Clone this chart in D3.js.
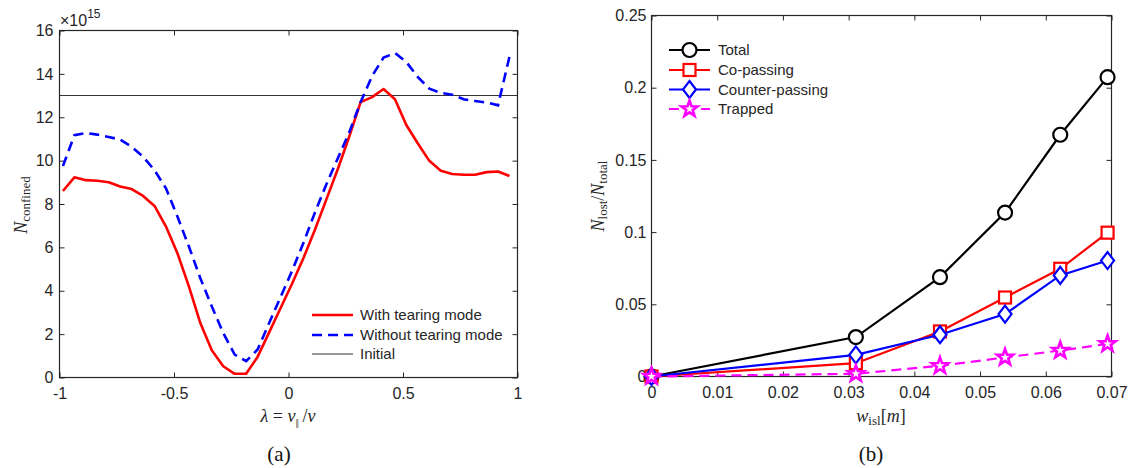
<!DOCTYPE html>
<html><head><meta charset="utf-8">
<script src="https://cdn.jsdelivr.net/npm/d3@7"></script>
<style>
html,body{margin:0;padding:0;background:#fff;}
svg{display:block;}
</style></head>
<body>
<svg id="chart" width="1128" height="468"></svg>
<script>
// ---------- Panel (a) data ----------
const lambdaVals = [-0.985,-0.935,-0.885,-0.835,-0.785,-0.735,-0.685,-0.635,-0.585,-0.535,
  -0.485,-0.435,-0.385,-0.335,-0.285,-0.235,-0.185,-0.135,-0.085,-0.035,
  0.015,0.065,0.115,0.165,0.215,0.265,0.315,0.365,0.415,0.465,
  0.515,0.565,0.615,0.665,0.715,0.765,0.815,0.865,0.915,0.965];
const withTearing = [8.60,9.23,9.10,9.07,9.00,8.81,8.69,8.37,7.91,6.96,
  5.73,4.20,2.51,1.26,0.52,0.17,0.17,0.95,2.07,3.19,
  4.31,5.50,6.80,8.20,9.60,11.10,12.70,12.93,13.30,12.83,
  11.63,10.79,9.99,9.53,9.38,9.35,9.35,9.47,9.50,9.29];
const withoutTearing = [9.75,11.17,11.27,11.20,11.09,10.97,10.64,10.18,9.56,8.72,
  7.42,6.04,4.58,3.28,2.05,1.06,0.75,1.29,2.50,3.70,
  4.90,6.20,7.60,8.90,10.10,11.30,12.70,13.90,14.75,14.96,
  14.54,13.85,13.32,13.12,13.04,12.83,12.75,12.68,12.55,14.80];
const initialLevel = 13;
const aXTicks = [-1,-0.5,0,0.5,1];
const aXTickLabels = ["-1","-0.5","0","0.5","1"];
const aYTicks = [0,2,4,6,8,10,12,14,16];
const aYTickLabels = ["0","2","4","6","8","10","12","14","16"];
const aLegend = ["With tearing mode","Without tearing mode","Initial"];

// ---------- Panel (b) data ----------
const wIsl = [0,0.0311,0.0439,0.0538,0.0622,0.0694];
const totalLost = [0,0.0273,0.0688,0.1135,0.1674,0.2073];
const coPassing = [0,0.0092,0.0312,0.0547,0.0746,0.0996];
const counterPassing = [0,0.0150,0.0289,0.0432,0.0700,0.0803];
const trapped = [0,0.0019,0.0074,0.0132,0.0180,0.0226];
const bXTicks = [0,0.01,0.02,0.03,0.04,0.05,0.06,0.07];
const bXTickLabels = ["0","0.01","0.02","0.03","0.04","0.05","0.06","0.07"];
const bYTicks = [0,0.05,0.1,0.15,0.2,0.25];
const bYTickLabels = ["0","0.05","0.1","0.15","0.2","0.25"];
const bLegend = ["Total","Co-passing","Counter-passing","Trapped"];

const AX = "#262626";
const SANS = "'Liberation Sans', Arial, Helvetica, sans-serif";
const SERIF = "'Liberation Serif', 'Times New Roman', serif";
const svg = d3.select("#chart");

function styleAxis(g, fs){
  g.select(".domain").remove();
  g.selectAll(".tick line").attr("stroke", AX).attr("stroke-width", 1);
  g.selectAll(".tick text").attr("fill", AX).attr("font-family", SANS).attr("font-size", fs);
}
function frame(g, x, y){
  const [x0,x1] = x.range(), [y1,y0] = y.range();
  g.append("rect").attr("x", x0).attr("y", y0).attr("width", x1-x0).attr("height", y1-y0)
    .attr("fill","none").attr("stroke", AX).attr("stroke-width", 1.2);
}

// ================= Panel (a) =================
const xa = d3.scaleLinear().domain([-1,1]).range([59.5,517.5]);
const ya = d3.scaleLinear().domain([0,16]).range([377.5,30.5]);
const ga = svg.append("g");

ga.append("g").attr("transform",`translate(0,${ya(0)})`)
  .call(d3.axisBottom(xa).tickValues(aXTicks).tickFormat((d,i)=>aXTickLabels[i]).tickSizeInner(-5).tickSizeOuter(0).tickPadding(10))
  .call(g=>styleAxis(g,16));
ga.append("g").attr("transform",`translate(0,${ya(16)})`)
  .call(d3.axisTop(xa).tickValues(aXTicks).tickFormat("").tickSizeInner(-5).tickSizeOuter(0))
  .call(g=>styleAxis(g,16));
ga.append("g").attr("transform",`translate(${xa(-1)},0)`)
  .call(d3.axisLeft(ya).tickValues(aYTicks).tickFormat((d,i)=>aYTickLabels[i]).tickSizeInner(-5).tickSizeOuter(0).tickPadding(6))
  .call(g=>styleAxis(g,16));
ga.append("g").attr("transform",`translate(${xa(1)},0)`)
  .call(d3.axisRight(ya).tickValues(aYTicks).tickFormat("").tickSizeInner(-5).tickSizeOuter(0))
  .call(g=>styleAxis(g,16));

// Initial line
ga.append("line").attr("x1", xa(-1)).attr("x2", xa(1)).attr("y1", ya(initialLevel)).attr("y2", ya(initialLevel))
  .attr("stroke","#333").attr("stroke-width",1.1);

const lineA = d3.line().x((d,i)=>xa(lambdaVals[i])).y(d=>ya(d));
ga.append("path").datum(withTearing).attr("d", lineA).attr("fill","none")
  .attr("stroke","#ff0000").attr("stroke-width",2.6).attr("stroke-linejoin","round");
ga.append("path").datum(withoutTearing).attr("d", lineA).attr("fill","none")
  .attr("stroke","#0000ff").attr("stroke-width",2.6).attr("stroke-dasharray","10,6");

frame(ga, xa, ya);

// ×10^15
const expT = ga.append("text").attr("x",60).attr("y",26).attr("font-family",SANS).attr("font-size",16).attr("fill",AX);
expT.append("tspan").text("×10");
expT.append("tspan").attr("font-size",12).attr("dy",-8).text("15");

// legend (a)
const legA = ga.append("g");
const legAY = [315,335,354];
const legAStyles = [
  {c:"#ff0000",w:2.6,d:null},
  {c:"#0000ff",w:2.6,d:"10,6"},
  {c:"#333",w:1.1,d:null}];
aLegend.forEach((t,i)=>{
  legA.append("line").attr("x1",312).attr("x2",353).attr("y1",legAY[i]).attr("y2",legAY[i])
    .attr("stroke",legAStyles[i].c).attr("stroke-width",legAStyles[i].w)
    .attr("stroke-dasharray",legAStyles[i].d);
  legA.append("text").attr("x",360).attr("y",legAY[i]).attr("dy","0.36em")
    .attr("font-family",SANS).attr("font-size",15).attr("fill",AX).text(t);
});

// axis labels (a)
const xla = ga.append("text").attr("x",288).attr("y",422).attr("text-anchor","middle")
  .attr("font-family",SERIF).attr("font-size",18).attr("fill",AX);
xla.append("tspan").attr("font-style","italic").text("λ");
xla.append("tspan").text(" = ");
xla.append("tspan").attr("font-style","italic").text("v");
xla.append("tspan").attr("font-size",11).attr("dy",4).attr("letter-spacing","-1").text("||");
xla.append("tspan").attr("dy",-4).text(" /");
xla.append("tspan").attr("font-style","italic").text("v");

const yla = ga.append("text").attr("transform","translate(27,205) rotate(-90)").attr("text-anchor","middle")
  .attr("font-family",SERIF).attr("font-size",18).attr("fill",AX);
yla.append("tspan").attr("font-style","italic").text("N");
yla.append("tspan").attr("font-size",13).attr("dy",3).text("confined");

ga.append("text").attr("x",279).attr("y",461).attr("text-anchor","middle")
  .attr("font-family",SERIF).attr("font-size",21).attr("fill","#111").text("(a)");

// ================= Panel (b) =================
const xb = d3.scaleLinear().domain([0,0.07]).range([651.5,1111.5]);
const yb = d3.scaleLinear().domain([0,0.25]).range([376.5,15.5]);
const gb = svg.append("g");

gb.append("g").attr("transform",`translate(0,${yb(0)})`)
  .call(d3.axisBottom(xb).tickValues(bXTicks).tickFormat((d,i)=>bXTickLabels[i]).tickSizeInner(-5).tickSizeOuter(0).tickPadding(10))
  .call(g=>styleAxis(g,16));
gb.append("g").attr("transform",`translate(0,${yb(0.25)})`)
  .call(d3.axisTop(xb).tickValues(bXTicks).tickFormat("").tickSizeInner(-5).tickSizeOuter(0))
  .call(g=>styleAxis(g,16));
gb.append("g").attr("transform",`translate(${xb(0)},0)`)
  .call(d3.axisLeft(yb).tickValues(bYTicks).tickFormat((d,i)=>bYTickLabels[i]).tickSizeInner(-5).tickSizeOuter(0).tickPadding(5))
  .call(g=>styleAxis(g,16));
gb.append("g").attr("transform",`translate(${xb(0.07)},0)`)
  .call(d3.axisRight(yb).tickValues(bYTicks).tickFormat("").tickSizeInner(-5).tickSizeOuter(0))
  .call(g=>styleAxis(g,16));
frame(gb, xb, yb);

function starPath(R){
  const r = R*0.40, pts=[];
  for(let k=0;k<10;k++){
    const a = -Math.PI/2 + k*Math.PI/5, rr = k%2===0?R:r;
    pts.push([rr*Math.cos(a), rr*Math.sin(a)]);
  }
  return "M"+pts.map(p=>p[0].toFixed(2)+","+p[1].toFixed(2)).join("L")+"Z";
}
function marker(g, type, color, cx, cy){
  if(type==="circle"){
    g.append("circle").attr("cx",cx).attr("cy",cy).attr("r",7).attr("fill","#fff").attr("stroke",color).attr("stroke-width",2.2);
  } else if(type==="square"){
    g.append("rect").attr("x",cx-6).attr("y",cy-6).attr("width",12).attr("height",12).attr("fill","#fff").attr("stroke",color).attr("stroke-width",2.2);
  } else if(type==="diamond"){
    g.append("path").attr("d",`M${cx},${cy-8.5}L${cx+6.5},${cy}L${cx},${cy+8.5}L${cx-6.5},${cy}Z`)
      .attr("fill","#fff").attr("stroke",color).attr("stroke-width",2.2);
  } else {
    g.append("path").attr("d",starPath(8.5)).attr("transform",`translate(${cx},${cy})`)
      .attr("fill","#fff").attr("stroke",color).attr("stroke-width",2.6).attr("stroke-linejoin","miter");
  }
}
const seriesB = [
  {vals: totalLost, color:"#000000", m:"circle", dash:null},
  {vals: coPassing, color:"#ff0000", m:"square", dash:null},
  {vals: counterPassing, color:"#0000ff", m:"diamond", dash:null},
  {vals: trapped, color:"#ff00ff", m:"star", dash:"10,6"}];
const lineB = d3.line().x((d,i)=>xb(wIsl[i])).y(d=>yb(d));
seriesB.forEach(s=>{
  const g = gb.append("g");
  g.append("path").datum(s.vals).attr("d", lineB).attr("fill","none")
    .attr("stroke", s.color).attr("stroke-width",2.2).attr("stroke-dasharray", s.dash);
  s.vals.forEach((v,i)=>marker(g, s.m, s.color, xb(wIsl[i]), yb(v)));
});

// legend (b)
const legBY = [50,70,89.5,109];
seriesB.forEach((s,i)=>{
  const g = gb.append("g");
  g.append("line").attr("x1",669).attr("x2",710).attr("y1",legBY[i]).attr("y2",legBY[i])
    .attr("stroke",s.color).attr("stroke-width",2.2).attr("stroke-dasharray", s.dash);
  marker(g, s.m, s.color, 689.5, legBY[i]);
  g.append("text").attr("x",718).attr("y",legBY[i]).attr("dy","0.36em")
    .attr("font-family",SANS).attr("font-size",15).attr("fill",AX).text(bLegend[i]);
});

// axis labels (b)
const xlb = gb.append("text").attr("x",881).attr("y",422).attr("text-anchor","middle")
  .attr("font-family",SERIF).attr("font-size",18).attr("fill",AX);
xlb.append("tspan").attr("font-style","italic").text("w");
xlb.append("tspan").attr("font-size",13).attr("dy",3).text("isl");
xlb.append("tspan").attr("dy",-3).text("[");
xlb.append("tspan").attr("font-style","italic").text("m");
xlb.append("tspan").text("]");

const ylb = gb.append("text").attr("transform","translate(604,196) rotate(-90)").attr("text-anchor","middle")
  .attr("font-family",SERIF).attr("font-size",18).attr("fill",AX);
ylb.append("tspan").attr("font-style","italic").text("N");
ylb.append("tspan").attr("font-size",13).attr("dy",3).text("lost");
ylb.append("tspan").attr("dy",-3).text("/");
ylb.append("tspan").attr("font-style","italic").text("N");
ylb.append("tspan").attr("font-size",13).attr("dy",3).text("total");

gb.append("text").attr("x",871).attr("y",461).attr("text-anchor","middle")
  .attr("font-family",SERIF).attr("font-size",21).attr("fill","#111").text("(b)");
</script>
</body></html>
